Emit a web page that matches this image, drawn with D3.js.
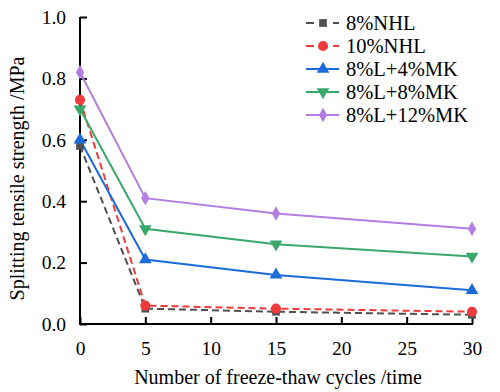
<!DOCTYPE html>
<html><head><meta charset="utf-8">
<script src="https://cdn.jsdelivr.net/npm/d3@7"></script>
<style>body{margin:0;background:#fff}svg{display:block}svg text{font-family:"Liberation Serif","Times New Roman",serif !important}</style>
</head><body>
<svg id="c" width="500" height="392"></svg>
<script>
const cycles = [0, 5, 15, 30];
const seriesNames = ["8%NHL", "10%NHL", "8%L+4%MK", "8%L+8%MK", "8%L+12%MK"];
const nhl8 = [0.58, 0.05, 0.04, 0.03];
const nhl10 = [0.73, 0.06, 0.05, 0.04];
const mk4 = [0.60, 0.21, 0.16, 0.11];
const mk8 = [0.70, 0.31, 0.26, 0.22];
const mk12 = [0.82, 0.41, 0.36, 0.31];
const xTicks = [0, 5, 10, 15, 20, 25, 30];
const yTicks = [0, 0.2, 0.4, 0.6, 0.8, 1.0];
const colors = ["#505050", "#ef3b3b", "#1c6bd8", "#3aa86b", "#b07fe0"];
const symbols = [d3.symbolSquare, d3.symbolCircle, d3.symbolTriangle, "down", d3.symbolDiamond];
const dashed = [true, true, false, false, false];
const allValues = [nhl8, nhl10, mk4, mk8, mk12];
const FONT = "'Liberation Serif', 'Times New Roman', serif";

const svg = d3.select("#c");
const L = 80, R = 472, T = 17, B = 324;
const x = d3.scaleLinear().domain([0, 30]).range([L, R]);
const y = d3.scaleLinear().domain([0, 1]).range([B, T]);

function markerPath(i) {
  const s = symbols[i];
  if (s === "down") return d3.symbol(d3.symbolTriangle, 70)();
  if (s === d3.symbolSquare) return d3.symbol(s, 60)();
  if (s === d3.symbolCircle) return d3.symbol(s, 80)();
  if (s === d3.symbolDiamond) return d3.symbol(s, 60)();
  return d3.symbol(s, 70)();
}
function markerTransform(i, px, py) {
  return symbols[i] === "down" ? `translate(${px},${py}) rotate(180)` : `translate(${px},${py})`;
}

// axes
const xAxis = d3.axisBottom(x).tickValues(xTicks).tickSizeInner(-7).tickSizeOuter(0).tickPadding(17).tickFormat(d3.format("d"));
const gx = svg.append("g").attr("transform", `translate(0,${B})`).call(xAxis);
const yAxis = d3.axisLeft(y).tickValues(yTicks).tickSizeInner(-7).tickSizeOuter(0).tickPadding(14).tickFormat(d3.format(".1f"));
const gy = svg.append("g").attr("transform", `translate(${L},0)`).call(yAxis);
[gx, gy].forEach(g => {
  g.attr("font-family", FONT).attr("font-size", 19);
  g.select(".domain").attr("stroke", "#000").attr("stroke-width", 2);
  g.selectAll(".tick line").attr("stroke", "#000").attr("stroke-width", 2);
  g.selectAll(".tick text").style("font-family", FONT).style("font-size", "19.5px").attr("fill", "#000");
});
gy.select(".domain").attr("d", `M0,${T}V${B}`);
gx.select(".domain").attr("d", `M${L - 1},0H${R + 1}`);

// series
const line = d3.line().x((d, j) => x(cycles[j])).y(d => y(d));
allValues.forEach((vals, i) => {
  svg.append("path").datum(vals).attr("d", line).attr("fill", "none")
    .attr("stroke", colors[i]).attr("stroke-width", 2)
    .attr("stroke-dasharray", dashed[i] ? "7,4" : null);
});
allValues.forEach((vals, i) => {
  svg.append("g").selectAll("path").data(vals).join("path")
    .attr("d", markerPath(i)).attr("fill", colors[i])
    .attr("transform", (d, j) => markerTransform(i, x(cycles[j]), y(d)));
});

// legend
const lg = svg.append("g");
seriesNames.forEach((name, i) => {
  const yy = 23 + i * 23;
  if (dashed[i]) {
    lg.append("line").attr("x1", 306).attr("x2", 314).attr("y1", yy).attr("y2", yy).attr("stroke", colors[i]).attr("stroke-width", 2);
    lg.append("line").attr("x1", 333).attr("x2", 339).attr("y1", yy).attr("y2", yy).attr("stroke", colors[i]).attr("stroke-width", 2);
  } else {
    lg.append("line").attr("x1", 306).attr("x2", 339).attr("y1", yy).attr("y2", yy).attr("stroke", colors[i]).attr("stroke-width", 2);
  }
  lg.append("path").attr("d", markerPath(i)).attr("fill", colors[i]).attr("transform", markerTransform(i, 323, yy));
  lg.append("text").attr("x", 346).attr("y", yy + 7).style("font-family", FONT).style("font-size", "20.5px").attr("fill", "#000").text(name);
});

// axis titles
svg.append("text").attr("x", (L + R) / 2 + 2).attr("y", 384).attr("text-anchor", "middle").style("font-family", FONT).style("font-size", "20px").attr("fill", "#000")
  .text("Number of freeze-thaw cycles /time");
svg.append("text").attr("transform", `translate(24,${(T + B) / 2 + 8}) rotate(-90)`).attr("text-anchor", "middle").style("font-family", FONT).style("font-size", "20px").attr("fill", "#000")
  .text("Splitting tensile strength /MPa");
</script>
</body></html>
